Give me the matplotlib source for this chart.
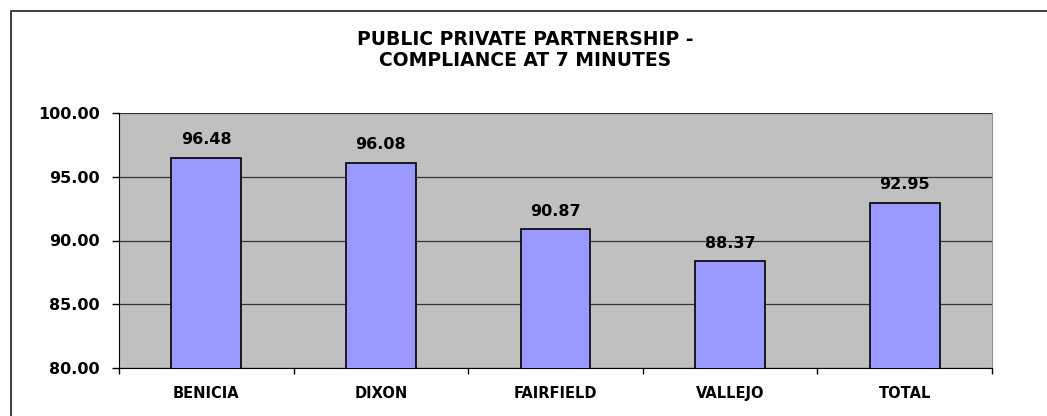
import matplotlib
matplotlib.use("Agg")
import matplotlib.pyplot as plt
from matplotlib.patches import Rectangle

categories = ["BENICIA", "DIXON", "FAIRFIELD", "VALLEJO", "TOTAL"]
values = [96.48, 96.08, 90.87, 88.37, 92.95]
yticks = [80, 85, 90, 95, 100]
title = "PUBLIC PRIVATE PARTNERSHIP -\nCOMPLIANCE AT 7 MINUTES"

plt.rcParams['font.family'] = ['DejaVu Sans']
plt.rcParams['font.weight'] = 'bold'

W, H = 1047, 416
fig = plt.figure(figsize=(W / 100, H / 100), dpi=100)
fig.patch.set_facecolor("white")

# outer chart border (cropped at right and bottom)
fig.patches.append(Rectangle((11 / W, -0.1), 1.2, 1 - 11 / H + 0.1,
                             transform=fig.transFigure, fill=False,
                             edgecolor="#303030", linewidth=1.3))

ax = fig.add_axes([119 / W, 1 - 368 / H, (992 - 119) / W, (368 - 113) / H])
ax.set_facecolor("#C0C0C0")
x = list(range(len(categories)))
ax.bar(x, values, width=0.4, bottom=0, color="#9999FF", edgecolor="black",
       linewidth=1.2, zorder=3)
ax.set_xlim(-0.5, len(categories) - 0.5)
ax.set_ylim(80, 100)
ax.set_yticks(yticks)
ax.set_yticklabels([f"{v:.2f}" for v in yticks], fontsize=11.5, fontweight='bold')
ax.yaxis.grid(True, color="#353535", linewidth=0.9, zorder=1)
ax.set_axisbelow(True)

ax.set_xticks(x)
ax.set_xticklabels(categories, fontsize=10.5, fontweight='bold')
ax.tick_params(axis='x', which='major', length=0, pad=13)
ax.set_xticks([i + 0.5 for i in range(-1, len(categories))], minor=True)
ax.tick_params(axis='x', which='minor', length=4, width=1, direction='out')
ax.tick_params(axis='y', length=5, width=1, direction='out', pad=9)

ax.spines["top"].set_visible(False)
ax.spines["right"].set_color("#909090")
ax.spines["left"].set_color("black")
ax.spines["bottom"].set_color("black")

for xi, v in zip(x, values):
    ax.annotate(f"{v:.2f}", (xi, v), xytext=(0, 13), textcoords="offset points",
                ha="center", va="center", fontsize=11.5, fontweight='bold')

fig.text(525 / W, 1 - 50 / H, title, ha="center", va="center",
         fontsize=13.5, fontweight='bold', linespacing=1.15)

fig.savefig("out.png", dpi=100)
